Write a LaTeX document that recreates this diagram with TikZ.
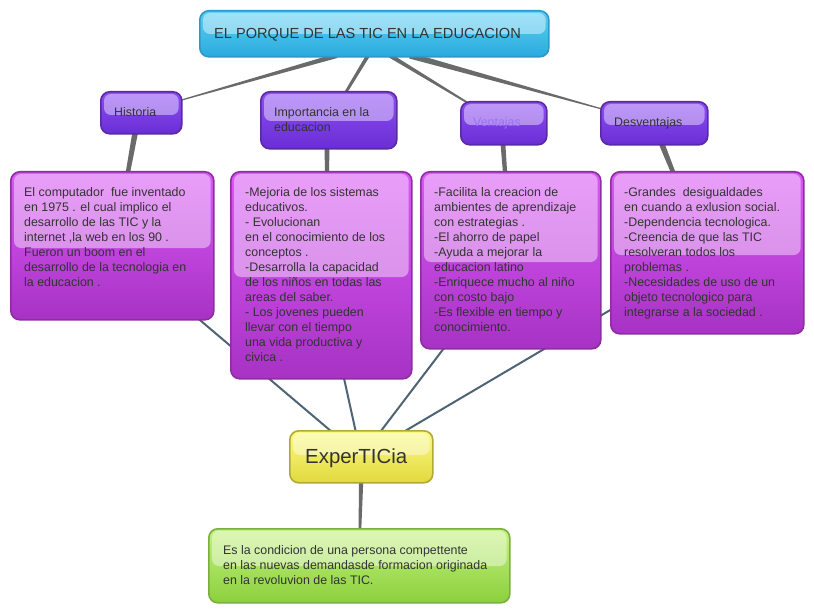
\documentclass[tikz,border=0pt]{standalone}
\usepackage{fontspec}
\setmainfont{Liberation Sans}
\usetikzlibrary{calc,backgrounds,shadings}
\definecolor{txt}{HTML}{333333}
\definecolor{conn}{HTML}{6A6A6A}
\definecolor{conb}{HTML}{4E6474}
\definecolor{cyT}{HTML}{5CCFF4}\definecolor{cyB}{HTML}{2AABDD}\definecolor{cyD}{HTML}{2E98C6}
\definecolor{puT}{HTML}{8E4EF6}\definecolor{puB}{HTML}{692ED4}\definecolor{puD}{HTML}{5A2AA2}
\definecolor{mgT}{HTML}{DA58F6}\definecolor{mgB}{HTML}{A732C4}\definecolor{mgD}{HTML}{8C2EA0}
\definecolor{yeT}{HTML}{FBFB84}\definecolor{yeB}{HTML}{E2D93E}\definecolor{yeD}{HTML}{B2A834}
\definecolor{grT}{HTML}{C4F282}\definecolor{grB}{HTML}{8CD03C}\definecolor{grD}{HTML}{7AAE3E}
\definecolor{venT}{HTML}{9C72F2}
\newcommand\fsn{\fontsize{12.4bp}{15bp}\selectfont}
\newcommand\stt{\rule{0pt}{11bp}}
\newcommand\taper[4]{\fill[conn] ($(#1)!#3!90:(#2)$) -- ($(#1)!#3!-90:(#2)$) -- ($(#2)!#4!90:(#1)$) -- ($(#2)!#4!-90:(#1)$) -- cycle;}
\tikzset{
  gbox/.style n args={3}{draw=#3, line width=1.6bp, rounded corners=9bp, top color=#1, bottom color=#2,
     anchor=north west, inner sep=0pt, shape=rectangle},
  lbl/.style={anchor=north west, inner sep=0pt, align=left, text=txt, font=\fsn},
  hl/.style={fill=white, fill opacity=0.42, rounded corners=7bp},
  shd/.style={fill=black, fill opacity=0.10, rounded corners=9bp},
  bconn/.style={draw=conb, line width=2bp},
}
\newcommand\gl[3]{\fill[hl] ($(#1.north west)+(4,3)$) rectangle ($(#1.north east)+(-4,#2)$);}
\begin{document}
\begin{tikzpicture}[x=1bp,y=-1bp]
\useasboundingbox (0,0) rectangle (814,613);
% boxes
\node[gbox={cyT}{cyB}{cyD}, minimum width=349bp, minimum height=46bp] (title) at (199,10) {};
\node[gbox={puT}{puB}{puD}, minimum width=81bp, minimum height=42bp] (hist) at (100,91) {};
\node[gbox={puT}{puB}{puD}, minimum width=136bp, minimum height=57bp] (imp) at (260,91) {};
\node[gbox={puT}{puB}{puD}, minimum width=86bp, minimum height=43bp] (ven) at (460,101) {};
\node[gbox={puT}{puB}{puD}, minimum width=107bp, minimum height=43bp] (des) at (600,101) {};
\node[gbox={mgT}{mgB}{mgD}, minimum width=203bp, minimum height=148bp] (b1) at (10,171) {};
\node[gbox={mgT}{mgB}{mgD}, minimum width=181bp, minimum height=207bp] (b2) at (230,171) {};
\node[gbox={mgT}{mgB}{mgD}, minimum width=180bp, minimum height=177bp] (b3) at (420,171) {};
\node[gbox={mgT}{mgB}{mgD}, minimum width=193bp, minimum height=162bp] (b4) at (610,171) {};
\node[gbox={yeT}{yeB}{yeD}, minimum width=143bp, minimum height=52bp] (exp) at (289,430) {};
\node[gbox={grT}{grB}{grD}, minimum width=301bp, minimum height=74bp] (gr) at (208,528) {};
% highlights
\gl{title}{24}{}
\gl{hist}{24}{}\gl{imp}{30}{}\gl{ven}{24}{}\gl{des}{24}{}
\gl{b1}{77}{}\gl{b2}{106}{}\gl{b3}{91}{}\gl{b4}{84}{}
\gl{exp}{25}{}\gl{gr}{38}{}
% texts
\node[lbl, font=\fontsize{14.6bp}{17bp}\selectfont] (ttitle) at (214,38.5) [anchor=base west] {EL PORQUE DE LAS TIC EN LA EDUCACION};
\node[lbl] (thist) at (114,105) {\stt Historia};
\node[lbl] (timp) at (274,105) {\stt Importancia en la\\educacion};
\node[lbl, text=venT] (tven) at (473,115) {\stt Ventajas};
\node[lbl] (tdes) at (614,115) {\stt Desventajas};
\node[lbl] (tb1) at (24,185) {\stt El computador\ \ fue inventado\\en 1975 . el cual implico el\\desarrollo de las TIC y la\\internet ,la web en los 90 .\\Fueron un boom en el\\desarrollo de la tecnologia en\\la educacion .};
\node[lbl] (tb2) at (245,185) {\stt -Mejoria de los sistemas\\educativos.\\- Evolucionan\\en el conocimiento de los\\conceptos .\\-Desarrolla la capacidad\\de los niños en todas las\\areas del saber.\\- Los jovenes pueden\\llevar con el tiempo\\una vida productiva y\\civica .};
\node[lbl] (tb3) at (434,185) {\stt -Facilita la creacion de\\ambientes de aprendizaje\\con estrategias .\\-El ahorro de papel\\-Ayuda a mejorar la\\educacion latino\\-Enriquece mucho al niño\\con costo bajo\\-Es flexible en tiempo y\\conocimiento.};
\node[lbl] (tb4) at (624,185) {\stt -Grandes\ \ desigualdades\\en cuando a exlusion social.\\-Dependencia tecnologica.\\-Creencia de que las TIC\\resolveran todos los\\problemas .\\-Necesidades de uso de un\\objeto tecnologico para\\integrarse a la sociedad .};
\node[lbl, font=\fontsize{20.4bp}{24bp}\selectfont, anchor=base west] (texp) at (305,463) {ExperTICia};
\node[lbl] (tgr) at (223,543) {\stt Es la condicion de una persona compettente\\en las nuevas demandasde formacion originada\\en la revoluvion de las TIC.};
% connectors
\begin{pgfonlayer}{background}
\draw[bconn] (exp.center) -- (b1.center);
\draw[bconn] (exp.center) -- (b2.center);
\draw[bconn] (exp.center) -- (b3.center);
\draw[bconn] (exp.center) -- (b4.center);
\coordinate (a1) at ($(title.south west)+(138,-2)$);
\coordinate (e1) at ($(hist.north east)+(-1,9)$);
\coordinate (a2) at ($(title.south west)+(169,-2)$);
\coordinate (e2) at ($(imp.north west)+(86,1)$);
\coordinate (a3) at ($(title.south west)+(191,-2)$);
\coordinate (e3) at ($(ven.north west)+(8,2)$);
\coordinate (a4) at ($(title.south west)+(211,-2)$);
\coordinate (e4) at ($(des.north west)+(2,8)$);
\taper{a1}{e1}{2.4bp}{0.6bp}
\taper{a2}{e2}{1.9bp}{1.4bp}
\taper{a3}{e3}{2.1bp}{0.9bp}
\taper{a4}{e4}{3bp}{0.6bp}
\coordinate (c1) at ($(hist.south west)+(35,-1)$);
\coordinate (d1) at ($(b1.north west)+(118,1)$);
\coordinate (c2) at ($(imp.south west)+(67,-1)$);
\coordinate (d2) at ($(b2.north west)+(97,1)$);
\coordinate (c3) at ($(ven.south west)+(43,-1)$);
\coordinate (d3) at ($(b3.north west)+(85,1)$);
\coordinate (c4) at ($(des.south west)+(62,-1)$);
\coordinate (d4) at ($(b4.north west)+(63,1)$);
\taper{c1}{d1}{2.8bp}{2.2bp}
\taper{c2}{d2}{2.4bp}{2.1bp}
\taper{c3}{d3}{2.4bp}{2.1bp}
\taper{c4}{d4}{2.8bp}{2.2bp}
\coordinate (f1) at ($(exp.south west)+(72,-1)$);
\coordinate (g1) at ($(gr.north west)+(152,1)$);
\taper{f1}{g1}{2.2bp}{1.3bp}
\end{pgfonlayer}
\end{tikzpicture}
\end{document}
